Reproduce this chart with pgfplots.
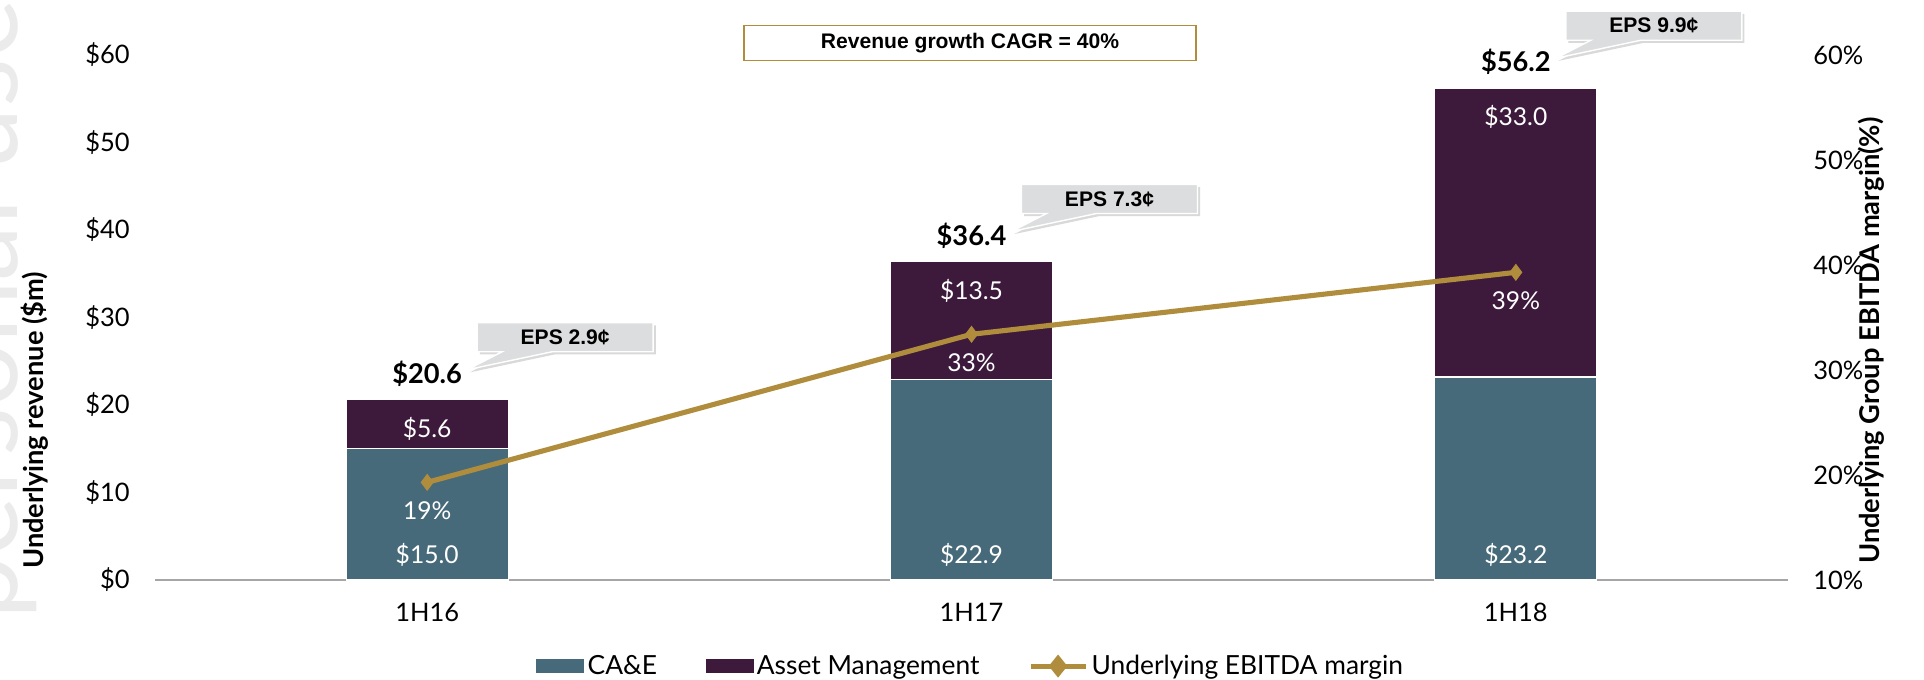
\documentclass[border=0pt]{standalone}
\usepackage{fontspec}
\setmainfont{Lato}
\newfontfamily\arial{Liberation Sans}
\usepackage{pgfplots}
\pgfplotsset{compat=1.18}
\usetikzlibrary{shadows}

\definecolor{cae}{HTML}{476A7A}
\definecolor{am}{HTML}{3D1A3C}
\definecolor{gold}{HTML}{B08D3C}
\definecolor{callout}{HTML}{DCDDDE}
\definecolor{axisgray}{HTML}{A6A6A6}

\newcommand\fs[1]{\fontsize{#1}{#1}\selectfont}

% EPS callout pointing at a bar total; #1 = coordinate of the bar top, #2 = text
\newcommand\callout[2]{%
  \draw[fill=callout, draw=white, line width=0.8pt,
        drop shadow={shadow xshift=1.5pt, shadow yshift=-1.5pt, opacity=0.3}]
    ([shift={(1.0cm,0.96cm)}]#1) -- ([shift={(1.5cm,0.96cm)}]#1)
    -- ([shift={(0.8cm,0.6cm)}]#1) -- ([shift={(2.5cm,0.96cm)}]#1)
    -- ([shift={(4.52cm,0.96cm)}]#1) -- ([shift={(4.52cm,1.54cm)}]#1)
    -- ([shift={(1.0cm,1.54cm)}]#1) -- cycle;
  \node[font=\arial\bfseries\fs{12}] at ([shift={(2.76cm,1.25cm)}]#1) {#2};
}

\begin{document}
\begin{tikzpicture}
\useasboundingbox (0,0) rectangle (38.48cm,13.6cm);

% faint watermark on the left edge
\begin{scope}
\clip (0,0) rectangle (38.48cm,13.6cm);
\node[rotate=90, anchor=base west, inner sep=0pt, text=gray!16, font=\fs{64}]
  at (0.35cm,1.2cm) {personal use only};
\end{scope}

\begin{axis}[
    at={(3.10cm,2.00cm)}, anchor=south west,
    scale only axis, width=32.66cm, height=10.5cm,
    clip=false,
    ybar stacked, bar width=3.24cm,
    xmin=-0.5, xmax=2.5, ymin=0, ymax=60,
    xtick={0,1,2}, xticklabels={1H16,1H17,1H18},
    ytick={0,10,...,60},
    yticklabel={\$\pgfmathprintnumber{\tick}},
    /pgf/number format/assume math mode=true,
    axis x line*=bottom, axis y line*=left,
    x axis line style={draw=axisgray, line width=1.1pt},
    y axis line style={draw=none},
    major tick length=0pt,
    tick label style={font=\fs{14.5}},
    yticklabel style={anchor=east, inner sep=0pt, xshift=-0.5cm},
    xticklabel style={anchor=north, inner sep=0pt, yshift=-0.46cm},
]
\addplot[fill=cae, draw=white, line width=0.6pt] coordinates {(0,15.0) (1,22.9) (2,23.2)};
\addplot[fill=am, draw=white, line width=0.6pt] coordinates {(0,5.6) (1,13.5) (2,33.0)};
\coordinate (b0) at (axis cs:0,0);
\coordinate (b1) at (axis cs:1,0);
\coordinate (b2) at (axis cs:2,0);
\coordinate (t0) at (axis cs:0,20.6);
\coordinate (t1) at (axis cs:1,36.4);
\coordinate (t2) at (axis cs:2,56.2);
\end{axis}

\begin{axis}[
    at={(3.10cm,2.00cm)}, anchor=south west,
    scale only axis, width=32.66cm, height=10.5cm,
    xmin=-0.5, xmax=2.5, ymin=10, ymax=60,
    ytick={10,20,...,60},
    yticklabel={\pgfmathprintnumber{\tick}\%},
    /pgf/number format/assume math mode=true,
    axis y line*=right, axis x line=none,
    y axis line style={draw=none},
    major tick length=0pt,
    tick label style={font=\fs{14.5}},
    yticklabel style={anchor=west, inner sep=0pt, xshift=0.5cm},
    legend columns=3,
    legend style={at={(0.5,-0.164)}, anchor=center, draw=none, fill=none,
        font=\fs{15}, /tikz/every even column/.append style={column sep=0.9cm}},
]
\addlegendimage{legend image code/.code={\fill[cae] (0cm,-0.13cm) rectangle (0.94cm,0.13cm);}}
\addlegendentry{CA\&E}
\addlegendimage{legend image code/.code={\fill[am] (0cm,-0.13cm) rectangle (0.94cm,0.13cm);}}
\addlegendentry{Asset Management}
\addplot[gold, line width=2.9pt, mark=diamond*, mark size=4.5pt,
    mark options={fill=gold, draw=gold, line width=0.5pt},
    legend image code/.code={
      \draw[gold, line width=2.9pt] (0cm,0cm) -- (1.1cm,0cm);
      \fill[gold] (0.55cm,0.15cm) -- (0.67cm,0cm) -- (0.55cm,-0.15cm) -- (0.43cm,0cm) -- cycle;},
    nodes near coords={\pgfmathprintnumber[fixed,precision=0]{\pgfplotspointmeta}\%},
    every node near coord/.append style={anchor=center, yshift=-0.56cm, text=white, font=\fs{14}},
] coordinates {(0,19.3) (1,33.4) (2,39.3)};
\addlegendentry{Underlying EBITDA margin}
\end{axis}

% segment values
\node[text=white, font=\fs{14}] at ([yshift=0.5cm]b0) {\$15.0};
\node[text=white, font=\fs{14}] at ([yshift=0.5cm]b1) {\$22.9};
\node[text=white, font=\fs{14}] at ([yshift=0.5cm]b2) {\$23.2};
\node[text=white, font=\fs{14}] at ([yshift=-0.58cm]t0) {\$5.6};
\node[text=white, font=\fs{14}] at ([yshift=-0.58cm]t1) {\$13.5};
\node[text=white, font=\fs{14}] at ([yshift=-0.58cm]t2) {\$33.0};

% totals and EPS callouts
\node[font=\bfseries\fs{15.5}] at ([yshift=0.52cm]t0) {\$20.6};
\node[font=\bfseries\fs{15.5}] at ([yshift=0.52cm]t1) {\$36.4};
\node[font=\bfseries\fs{15.5}] at ([yshift=0.52cm]t2) {\$56.2};
\callout{t0}{EPS 2.9¢}
\callout{t1}{EPS 7.3¢}
\callout{t2}{EPS 9.9¢}

% axis titles
\node[rotate=90, anchor=west, font=\bfseries\fs{15.5}] at (0.70cm,2.1cm) {Underlying revenue (\$m)};
\node[rotate=90, anchor=west, font=\bfseries\fs{15.5}] at (37.42cm,2.2cm) {Underlying Group EBITDA margin(\%)};

% CAGR box
\node[draw=gold, line width=0.9pt, fill=white, minimum width=9.04cm, minimum height=0.7cm,
      inner sep=0pt, font=\arial\bfseries\fs{12}] at (19.4cm,12.74cm) {Revenue growth CAGR = 40\%};
\end{tikzpicture}
\end{document}
